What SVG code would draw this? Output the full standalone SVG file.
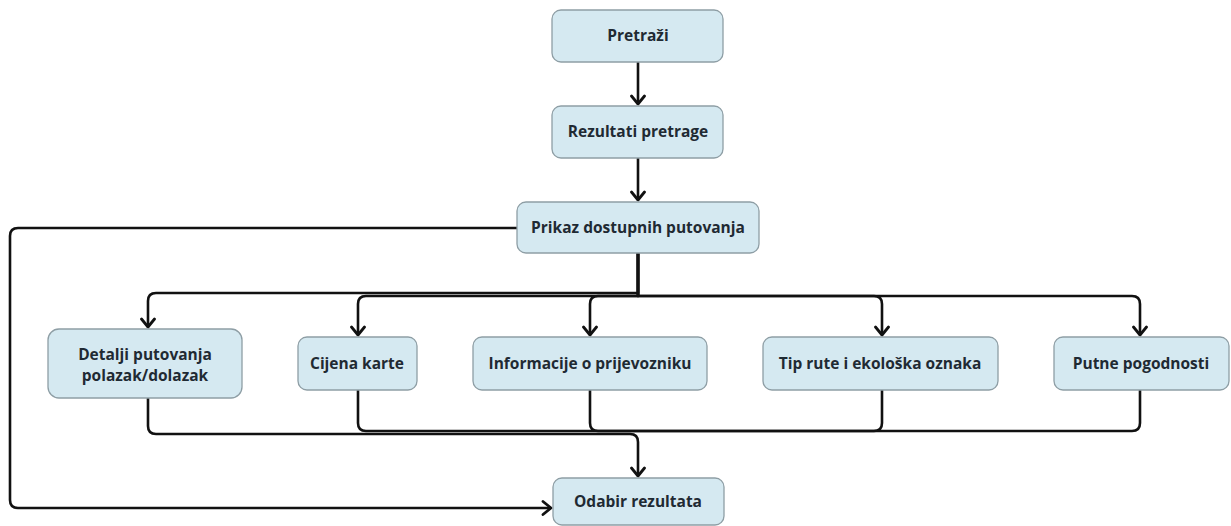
<svg xmlns="http://www.w3.org/2000/svg" width="1231" height="526" viewBox="0 0 1231 526">
<defs>
<style>
.box{fill:#d5e9f1;stroke:#8e9ea5;stroke-width:1.3}
.t{font-family:"Open Sans","Noto Sans",sans-serif;font-weight:700;font-size:15.5px;fill:#1f2a33;text-anchor:middle}
.c{fill:none;stroke:#111;stroke-width:2.6;stroke-linejoin:round}
</style>
<marker id="ah" markerUnits="userSpaceOnUse" markerWidth="18" markerHeight="18" refX="10" refY="8" orient="auto">
<path d="M2,1.5 L10,8 L2,14.5" fill="none" stroke="#111" stroke-width="2.8" stroke-linejoin="round" stroke-linecap="round"/>
</marker>
</defs>
<rect width="1231" height="526" fill="#fff"/>
<g id="connectors">
<path class="c" d="M638,62 V104" marker-end="url(#ah)"/>
<path class="c" d="M638,158 V200" marker-end="url(#ah)"/>
<path class="c" d="M638,253 V293 H156 Q148,293 148,301 V327" marker-end="url(#ah)"/>
<path class="c" d="M638,253 V296 H366 Q358,296 358,304 V335" marker-end="url(#ah)"/>
<path class="c" d="M638,253 V296 H598 Q590,296 590,304 V335" marker-end="url(#ah)"/>
<path class="c" d="M638,253 V296 H874 Q882,296 882,304 V335" marker-end="url(#ah)"/>
<path class="c" d="M638,253 V296 H1132 Q1140,296 1140,304 V335" marker-end="url(#ah)"/>
<path class="c" d="M148,398 V426 Q148,434 156,434 H630 Q638,434 638,442 V476" marker-end="url(#ah)"/>
<path class="c" d="M358,390 V423 Q358,431 366,431 H638"/>
<path class="c" d="M590,390 V423 Q590,431 598,431 H638"/>
<path class="c" d="M882,390 V423 Q882,431 874,431 H638"/>
<path class="c" d="M1140,390 V423 Q1140,431 1132,431 H638"/>
<path class="c" d="M517,228 H18 Q10,228 10,236 V500 Q10,508 18,508 H551" marker-end="url(#ah)"/>
</g>
<g id="n-pretrazi"><rect class="box" x="552" y="10" width="171" height="52" rx="9"/><text class="t" x="638" y="41">Pretraži</text></g>
<g id="n-rezultati"><rect class="box" x="552" y="106" width="171" height="52" rx="9"/><text class="t" x="638" y="137">Rezultati pretrage</text></g>
<g id="n-prikaz"><rect class="box" x="517" y="202" width="242" height="51" rx="9"/><text class="t" x="638" y="233">Prikaz dostupnih putovanja</text></g>
<g id="n-detalji"><rect class="box" x="48" y="329" width="194" height="69" rx="11"/><text class="t" x="145" y="360">Detalji putovanja</text><text class="t" x="145" y="381">polazak/dolazak</text></g>
<g id="n-cijena"><rect class="box" x="298" y="337" width="119" height="53" rx="9"/><text class="t" x="357" y="369">Cijena karte</text></g>
<g id="n-info"><rect class="box" x="473" y="337" width="234" height="53" rx="9"/><text class="t" x="590" y="369">Informacije o prijevozniku</text></g>
<g id="n-tip"><rect class="box" x="763" y="337" width="235" height="53" rx="9"/><text class="t" x="880" y="369">Tip rute i ekološka oznaka</text></g>
<g id="n-putne"><rect class="box" x="1054" y="337" width="175" height="53" rx="9"/><text class="t" x="1141" y="369">Putne pogodnosti</text></g>
<g id="n-odabir"><rect class="box" x="553" y="478" width="171" height="47" rx="9"/><text class="t" x="638" y="507">Odabir rezultata</text></g>
</svg>
